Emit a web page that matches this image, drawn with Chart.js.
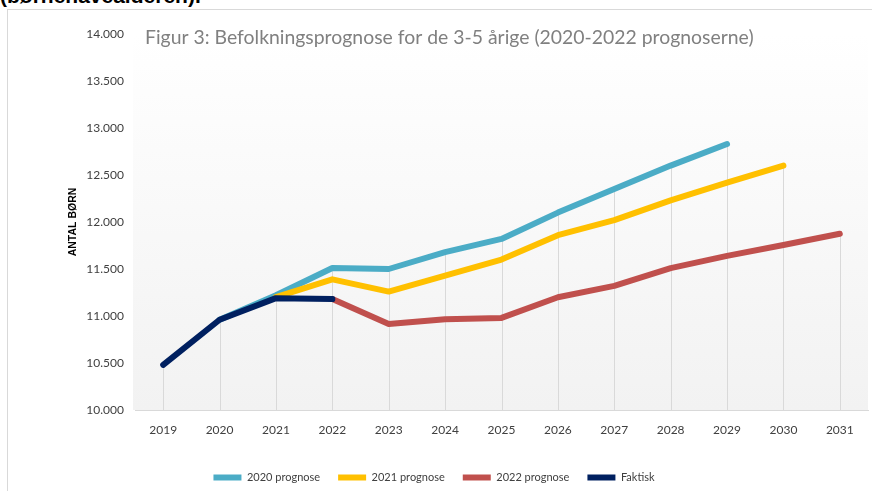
<!DOCTYPE html>
<html>
<head>
<meta charset="utf-8">
<script src="https://cdn.jsdelivr.net/npm/chart.js@4"></script>
<style>
  html, body { margin: 0; padding: 0; background: #fff; overflow: hidden; }
  #wrap { position: relative; width: 872px; height: 491px; }
  #heading {
    position: absolute; left: 0; top: -15px;
    font: bold 21px "Liberation Sans", Arial, sans-serif; color: #000;
    line-height: 22px; white-space: nowrap;
  }
  #frame {
    position: absolute; left: 7px; top: 9px; right: -2px; bottom: -2px;
    border-left: 1px solid #d9d9d9; border-top: 1px solid #d9d9d9;
  }
  canvas { position: absolute; left: 0; top: 0; }
</style>
</head>
<body>
<div id="wrap">
  <div id="heading">(børnehavealderen).</div>
  <div id="frame"></div>
  <canvas id="chart" width="872" height="491"></canvas>
</div>
<script>
// Befolkningsprognose for de 3-5 årige
const years = ['2019', '2020', '2021', '2022', '2023', '2024', '2025', '2026', '2027', '2028', '2029', '2030', '2031'];
const prognose2020 = [null, 10960, 11220, 11510, 11500, 11680, 11820, 12100, 12350, 12600, 12830, null, null];
const prognose2021 = [null, null, 11200, 11390, 11260, 11430, 11600, 11860, 12020, 12230, 12420, 12600, null];
const prognose2022 = [null, null, null, 11180, 10915, 10965, 10980, 11200, 11320, 11510, 11640, 11755, 11875];
const faktisk = [10480, 10960, 11190, 11180, null, null, null, null, null, null, null, null, null];

const titleText = 'Figur 3: Befolkningsprognose for de 3-5 årige (2020-2022 prognoserne)';
const axisTitle = 'ANTAL BØRN';

const FONT = 'Lato, "Open Sans", sans-serif';

function series(label, data, color, order) {
  return {
    label: label,
    data: data,
    borderColor: color,
    backgroundColor: color,
    borderWidth: 6,
    borderCapStyle: 'round',
    borderJoinStyle: 'round',
    pointRadius: 0,
    pointHoverRadius: 0,
    tension: 0,
    spanGaps: false,
    order: order
  };
}

// danish thousands separator: 14000 -> "14.000"
function fmt(v) {
  const s = String(Math.round(v));
  return s.replace(/\B(?=(\d{3})+(?!\d))/g, '.');
}

// plot background + drop lines from the highest point of each year
const plotDecor = {
  id: 'plotDecor',
  beforeDatasetsDraw(chart) {
    const { ctx, chartArea, scales } = chart;
    const grad = ctx.createLinearGradient(0, chartArea.top, 0, chartArea.bottom);
    grad.addColorStop(0, '#ffffff');
    grad.addColorStop(1, '#f2f2f2');
    ctx.save();
    ctx.fillStyle = grad;
    ctx.fillRect(chartArea.left - 2, chartArea.top, chartArea.right - chartArea.left + 2, chartArea.bottom - chartArea.top);

    ctx.strokeStyle = '#d9d9d9';
    ctx.lineWidth = 1;
    years.forEach((y, i) => {
      const vals = chart.data.datasets.map(ds => ds.data[i]).filter(v => v !== null);
      if (!vals.length) return;
      const x = Math.round(scales.x.getPixelForValue(i)) + 0.5;
      ctx.beginPath();
      ctx.moveTo(x, scales.y.getPixelForValue(Math.max(...vals)));
      ctx.lineTo(x, chartArea.bottom);
      ctx.stroke();
    });
    ctx.restore();
  },
  afterDraw(chart) {
    const { ctx, chartArea } = chart;
    ctx.save();
    ctx.fillStyle = '#808080';
    ctx.font = '19.4px ' + FONT;
    ctx.textBaseline = 'middle';
    ctx.textAlign = 'left';
    ctx.fillText(titleText, chartArea.left + 10, chartArea.top + 4);

    ctx.fillStyle = '#000';
    ctx.font = 'bold 10.5px "Liberation Sans", Arial, sans-serif';
    ctx.translate(chartArea.left - 62, (chartArea.top + chartArea.bottom) / 2);
    ctx.rotate(-Math.PI / 2);
    ctx.textAlign = 'center';
    ctx.fillText(axisTitle, 0, 0);
    ctx.restore();
  }
};

new Chart(document.getElementById('chart'), {
  type: 'line',
  data: {
    labels: years,
    datasets: [
      series('2020 prognose', prognose2020, '#4bacc6', 3),
      series('2021 prognose', prognose2021, '#ffc000', 2),
      series('2022 prognose', prognose2022, '#c0504d', 1),
      series('Faktisk', faktisk, '#002060', 0)
    ]
  },
  options: {
    responsive: false,
    animation: false,
    layout: { padding: { top: 34, right: 4, bottom: -2, left: 0 } },
    scales: {
      x: {
        offset: true,
        grid: { display: false, drawTicks: false, offset: true },
        border: { display: true, color: '#d9d9d9', width: 1 },
        ticks: { color: '#404040', font: { family: FONT, size: 12 }, padding: 13, maxRotation: 0 },
        afterFit(scale) { scale.height = 44; }
      },
      y: {
        min: 10000,
        max: 14000,
        grid: { display: false, drawTicks: false },
        border: { display: false },
        ticks: {
          stepSize: 500,
          color: '#404040',
          font: { family: FONT, size: 12 },
          padding: 11,
          callback: v => fmt(v)
        },
        afterFit(scale) { scale.width = 135; }
      }
    },
    plugins: {
      legend: {
        position: 'bottom',
        labels: {
          usePointStyle: true,
          pointStyle: 'line',
          pointStyleWidth: 28,
          boxHeight: 6,
          padding: 18,
          color: '#404040',
          font: { family: FONT, size: 11 },
          sort: (a, b) => a.datasetIndex - b.datasetIndex
        }
      },
      tooltip: { enabled: false }
    }
  },
  plugins: [plotDecor]
});
</script>
</body>
</html>
